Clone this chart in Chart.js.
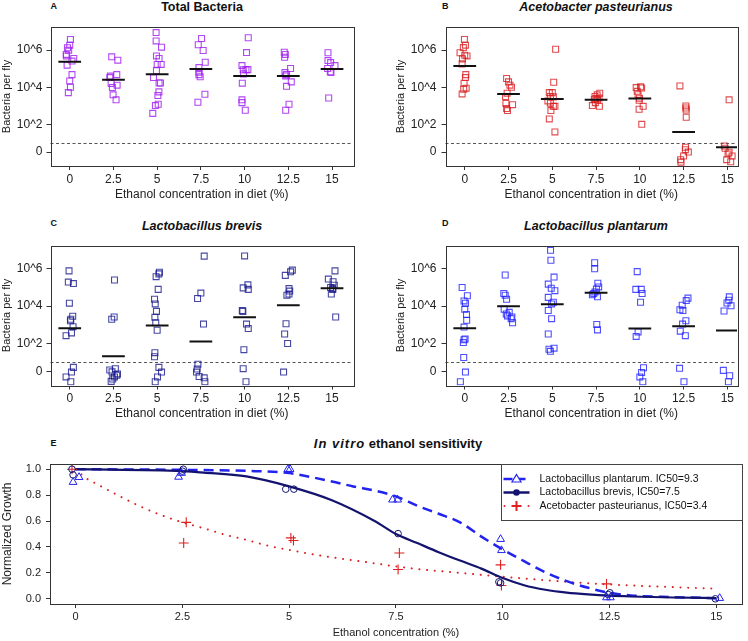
<!DOCTYPE html>
<html>
<head>
<meta charset="utf-8">
<script src="https://cdn.jsdelivr.net/npm/chart.js@4.4.1/dist/chart.umd.min.js"></script>
<style>
body { margin: 0; background: #fff; }
#wrap { position: relative; width: 748px; height: 641px; font-family: "Liberation Sans", Arial, Helvetica, sans-serif; color: #111; }
canvas { position: absolute; }
.ttl { position: absolute; font-weight: bold; font-size: 12.5px; line-height: 12.5px; white-space: nowrap; transform: translateX(-50%); }
.ttl.it { font-style: italic; }
.lt { position: absolute; font-weight: bold; font-size: 9px; line-height: 9px; }
</style>
</head>
<body>
<div id="wrap">
  <div class="lt" style="left:50.5px;top:1.8px">A</div>
  <div class="ttl" style="left:202px;top:0.5px">Total Bacteria</div>
  <div class="lt" style="left:442px;top:1.8px">B</div>
  <div class="ttl it" style="left:596px;top:0.5px">Acetobacter pasteurianus</div>
  <div class="lt" style="left:50.5px;top:219px">C</div>
  <div class="ttl it" style="left:202px;top:219.5px">Lactobacillus brevis</div>
  <div class="lt" style="left:442px;top:219px">D</div>
  <div class="ttl it" style="left:596px;top:219.5px">Lactobacillus plantarum</div>
  <div class="lt" style="left:50.5px;top:438.5px">E</div>
  <div class="ttl" style="left:398px;top:437.2px;font-size:13px;line-height:13px"><i style="letter-spacing:1px">In vitro</i> ethanol sensitivity</div>

  <canvas id="cA" width="374" height="210" style="left:0;top:0"></canvas>
  <canvas id="cB" width="374" height="210" style="left:374px;top:0"></canvas>
  <canvas id="cC" width="374" height="210" style="left:0;top:218px"></canvas>
  <canvas id="cD" width="374" height="210" style="left:374px;top:218px"></canvas>
  <canvas id="cE" width="748" height="211" style="left:0;top:430px"></canvas>
</div>
<script>
// ethanol in the diet (%) and tick labels
const concentrations = [0, 2.5, 5, 7.5, 10, 12.5, 15];
const concLabels = ['0', '2.5', '5', '7.5', '10', '12.5', '15'];

// y axis of panels A-D is log10(bacteria per fly); flies with no bacteria sit at 0.5 ("0")
const yTickValues = [0.5, 2, 4, 6];
const yTickLabels = ['0', '10^2', '10^4', '10^6'];
const detectionLimit = 1;

// [jittered concentration, log10 count], one group per concentration
const totalBacteria = [
  [[0.04,6.58],[0,6.27],[-0.13,6.13],[-0.06,6.0],[-0.2,5.77],[-0.19,5.69],[0.23,5.55],[0.13,5.41],[-0.15,5.19],[0.13,4.68],[0,4.34],[0.04,4.0],[-0.08,3.71]],
  [[2.4,5.64],[2.75,5.46],[2.33,4.6],[2.29,4.52],[2.69,4.68],[2.37,4.2],[2.71,4.11],[2.44,3.98],[2.48,3.59],[2.65,3.32]],
  [[4.94,6.95],[4.94,6.5],[5.25,6.16],[4.96,5.69],[5.11,5.55],[5.23,5.23],[5,5.23],[4.96,4.9],[4.79,4.52],[5.19,4.23],[5.11,4.23],[5.1,3.75],[5.04,3.55],[5.06,3.08],[4.9,3.01],[4.75,2.59]],
  [[7.54,6.63],[7.35,6.29],[7.63,5.98],[7.75,5.35],[7.39,5.06],[7.39,4.81],[7.39,4.68],[7.46,4.56],[7.73,3.62],[7.33,3.19]],
  [[10.21,6.67],[10.11,5.87],[9.85,5.17],[9.92,4.94],[10.08,4.94],[10.19,4.95],[9.94,4.72],[9.87,4.22],[9.85,3.32],[9.85,3.17],[10.04,2.76]],
  [[12.27,5.89],[12.33,5.77],[12.29,5.62],[12.63,5.01],[12.31,4.79],[12.4,4.68],[12.35,4.61],[12.67,4.29],[12.4,4.05],[12.54,3.08],[12.35,2.76]],
  [[14.77,5.86],[14.77,5.44],[14.92,5.33],[15.17,5.17],[14.75,5.01],[14.9,4.83],[14.94,4.79],[14.81,3.42]]
];
const totalBacteriaMeans = [5.37, 4.41, 4.7, 4.99, 4.61, 4.61, 4.99];

const acetobacter = [
  [[-0.02,6.58],[0.04,6.27],[-0.08,6.14],[-0.27,5.86],[0.13,5.69],[0,5.73],[-0.13,5.53],[-0.15,5.26],[0.06,4.68],[0.04,4.52],[-0.04,4.22],[0.08,3.95],[-0.06,3.89],[-0.15,3.64]],
  [[2.39,4.47],[2.5,4.29],[2.58,4.11],[2.67,4.0],[2.42,3.68],[2.33,3.5],[2.35,3.12],[2.73,3.06],[2.39,2.85],[2.44,2.74]],
  [[5.19,6.05],[5.08,4.27],[4.83,3.71],[5,3.71],[4.89,3.5],[5.06,3.48],[4.75,3.26],[4.89,3.14],[5.06,2.97],[5.15,2.97],[4.92,2.74],[4.83,2.29],[5.15,1.59]],
  [[7.71,3.68],[7.56,3.59],[7.44,3.5],[7.67,3.42],[7.5,3.39],[7.4,3.35],[7.58,3.32],[7.46,3.17],[7.29,3.01],[7.69,2.97]],
  [[9.79,3.98],[10.04,4.02],[10.1,3.96],[9.85,3.78],[9.9,3.6],[9.98,3.41],[9.96,3.3],[10.19,2.97],[9.96,2.81],[10.11,2.0]],
  [[12.29,4.07],[12.63,2.99],[12.63,2.88],[12.65,2.77],[12.65,2.38],[12.61,0.76],[12.6,0.63],[12.77,0.5],[12.5,0.29],[12.33,0.09],[12.35,-0.04]],
  [[15.1,3.32],[14.83,0.83],[14.87,0.71],[15.1,0.49],[15.04,0.4],[15.27,0.29],[14.96,0.09],[15.19,-0.02]]
];
const acetobacterMeans = [5.14, 3.64, 3.37, 3.32, 3.39, 1.59, 0.76];

const brevis = [
  [[-0.04,5.89],[-0.08,5.29],[0.21,5.21],[-0.02,4.16],[0.17,3.46],[0.06,3.3],[0.04,3.22],[0.19,2.9],[0.1,2.57],[-0.21,2.42],[0.21,0.72],[0.1,0.47],[-0.21,0.21],[0.06,-0.05]],
  [[2.56,5.4],[2.54,3.42],[2.4,3.3],[2.29,0.58],[2.61,0.65],[2.42,0.48],[2.73,0.37],[2.69,0.3],[2.56,0.21],[2.46,0.1],[2.37,-0.03]],
  [[5.13,5.82],[5.1,5.73],[4.94,5.58],[5.06,4.9],[4.85,4.37],[4.89,4.12],[4.96,3.72],[4.87,3.41],[4.92,3.11],[5,2.71],[4.87,1.51],[4.85,1.29],[5.1,0.72],[5.25,0.47],[5.02,0.21],[4.89,-0.05]],
  [[7.69,6.68],[7.5,4.7],[7.31,4.41],[7.65,3.04],[7.33,0.89],[7.29,0.63],[7.25,0.47],[7.4,0.23],[7.69,0.16],[7.73,-0.05]],
  [[10,6.69],[9.92,4.98],[10.19,5.14],[10.21,4.9],[9.87,3.77],[9.9,3.72],[10.11,3.04],[10.21,2.8],[9.96,1.67],[9.92,0.65],[10.08,-0.05]],
  [[12.73,5.93],[12.63,5.84],[12.33,5.65],[12.54,4.94],[12.58,4.81],[12.42,4.59],[12.54,4.65],[12.37,3.06],[12.29,2.51],[12.46,2.0],[12.23,0.47]],
  [[15.17,5.89],[14.79,5.45],[15.06,5.31],[15.13,5.12],[14.92,5.0],[15.04,4.94],[15.04,4.89],[14.96,4.65],[15.21,3.42]]
];
const brevisMeans = [2.82, 1.32, 2.97, 2.11, 3.41, 4.05, 4.96];

const plantarum = [
  [[-0.15,5.0],[0.15,4.56],[-0.04,4.28],[0.04,4.16],[0,3.83],[0.1,3.55],[0.11,3.24],[-0.04,2.88],[0.02,2.24],[-0.04,2.2],[-0.08,2.05],[-0.06,1.25],[0.04,0.47],[-0.25,-0.05]],
  [[2.31,5.67],[2.23,4.68],[2.31,4.59],[2.39,4.37],[2.25,3.83],[2.54,3.67],[2.37,3.58],[2.44,3.48],[2.69,3.42],[2.65,3.33],[2.73,3.11]],
  [[4.9,6.99],[4.92,6.46],[5.1,5.56],[4.77,5.18],[4.94,4.96],[5.15,4.83],[4.77,4.47],[5.06,4.21],[4.96,4.12],[4.77,3.77],[4.96,3.33],[4.77,2.51],[5.1,1.75],[4.81,1.69],[4.89,1.58]],
  [[7.42,6.33],[7.42,6.0],[7.6,5.23],[7.65,5.03],[7.52,4.92],[7.44,4.76],[7.37,4.68],[7.29,4.61],[7.58,4.5],[7.54,3.02],[7.58,2.73]],
  [[9.85,5.85],[9.77,4.9],[10.08,4.9],[10.13,4.68],[10.04,4.21],[9.9,2.62],[9.79,2.38],[10.21,0.7],[10.1,0.45],[10,0.21],[10.17,-0.05]],
  [[12.75,4.43],[12.65,4.3],[12.42,4.05],[12.29,3.81],[12.46,3.77],[12.63,3.22],[12.44,3.04],[12.31,2.66],[12.6,2.42],[12.27,0.67],[12.52,-0.05]],
  [[15.11,4.5],[15.08,4.32],[14.98,4.17],[15.21,4.02],[14.81,3.74],[14.77,0.56],[15.13,0.27],[15.06,-0.05]]
];
const plantarumMeans = [2.82, 3.99, 4.1, 4.72, 2.8, 2.93, 2.69];

// panel E: in vitro growth, fitted curves
const growthTicks = [0, 0.2, 0.4, 0.6, 0.8, 1.0];
const plantarumFitX = [0, 2.5, 4, 5, 5.5, 6, 6.5, 7, 7.5, 8, 8.5, 9, 9.5, 10, 10.5, 11, 11.5, 12, 12.5, 13, 14, 15];
const plantarumFitY = [1.0, 0.995, 0.987, 0.97, 0.94, 0.905, 0.867, 0.835, 0.79, 0.718, 0.656, 0.59, 0.48, 0.38, 0.29, 0.205, 0.136, 0.085, 0.046, 0.026, 0.013, 0.005];
const brevisFitX = [0, 2.5, 3, 4, 5, 6, 7, 7.5, 8, 8.5, 9, 9.5, 10, 10.5, 11, 11.5, 12, 12.5, 13, 14, 15];
const brevisFitY = [1.0, 0.985, 0.974, 0.944, 0.867, 0.76, 0.6, 0.5, 0.43, 0.36, 0.295, 0.233, 0.16, 0.105, 0.07, 0.048, 0.034, 0.024, 0.018, 0.01, 0.005];
const acetoFitX = [0, 0.25, 0.5, 1, 1.5, 2, 2.5, 3, 3.5, 4, 4.5, 5, 5.5, 6, 6.5, 7, 7.5, 8, 9, 10, 11, 12, 13, 14, 15];
const acetoFitY = [1.0, 0.93, 0.885, 0.797, 0.715, 0.646, 0.59, 0.544, 0.495, 0.454, 0.41, 0.377, 0.346, 0.32, 0.297, 0.274, 0.25, 0.23, 0.2, 0.17, 0.144, 0.12, 0.103, 0.09, 0.079];

// replicate measurements
const plantarumPtsX = [-0.06, 0.08, 2.41, 2.48, 4.97, 5.02, 7.42, 7.54, 9.95, 9.97, 12.43, 12.52, 15.08];
const plantarumPtsY = [0.9, 0.938, 0.94, 0.97, 1.0, 1.0, 0.764, 0.764, 0.46, 0.374, 0.01, 0.01, 0.005];
const brevisPtsX = [-0.085, -0.06, 2.5, 2.52, 4.92, 5.11, 7.55, 9.91, 9.95, 12.47, 12.51, 14.98];
const brevisPtsY = [1.0, 0.956, 0.985, 1.0, 0.846, 0.846, 0.503, 0.131, 0.123, 0.033, 0.046, 0.0];
const acetoPtsX = [-0.085, 2.53, 2.59, 5.04, 5.1, 7.55, 7.58, 9.95, 9.97, 12.43];
const acetoPtsY = [1.0, 0.43, 0.59, 0.47, 0.45, 0.226, 0.354, 0.262, 0.103, 0.115];

const legendLabels = ['Lactobacillus plantarum. IC50=9.3', 'Lactobacillus brevis, IC50=7.5', 'Acetobacter pasteurianus, IC50=3.4'];

Chart.defaults.font.family = '"Liberation Sans", Arial, Helvetica, sans-serif';
Chart.defaults.color = '#222';

const BLUE = '#2323ee', NAVY = '#13136f', RED = '#dd2222';

// box around the plot area + dashed detection limit
const framePlugin = {
  id: 'frame',
  beforeDatasetsDraw(chart, args, opts) {
    if (opts.refLine == null) return;
    const { ctx, chartArea: a } = chart;
    const py = Math.round(chart.scales.y.getPixelForValue(opts.refLine)) + 0.5;
    ctx.save();
    ctx.strokeStyle = '#555';
    ctx.lineWidth = 1;
    ctx.setLineDash([3, 2.5]);
    ctx.beginPath();
    ctx.moveTo(a.left, py);
    ctx.lineTo(a.right, py);
    ctx.stroke();
    ctx.restore();
  },
  afterDraw(chart) {
    const { ctx, chartArea: a } = chart;
    ctx.save();
    ctx.strokeStyle = '#333';
    ctx.lineWidth = 1;
    ctx.strokeRect(Math.round(a.left) + 0.5, Math.round(a.top) + 0.5, Math.round(a.right - a.left), Math.round(a.bottom - a.top));
    ctx.restore();
  }
};

function pairs(xs, ys) {
  return xs.map((x, i) => ({ x: x, y: ys[i] }));
}

function scatterPanel(id, g, groups, means, color, xMax) {
  const pts = groups.flat().map(p => ({ x: p[0], y: p[1] }));
  const segs = [];
  concentrations.forEach((c, i) => {
    segs.push({ x: c - 0.65, y: means[i] }, { x: c + 0.65, y: means[i] }, { x: c, y: null });
  });

  new Chart(document.getElementById(id), {
    type: 'scatter',
    data: {
      datasets: [
        { data: pts, pointStyle: 'rect', pointRadius: 4.2, borderWidth: 1.1, borderColor: color, backgroundColor: 'rgba(0,0,0,0)', order: 1 },
        { data: segs, showLine: true, spanGaps: false, borderColor: '#111', borderWidth: 2, pointRadius: 0, order: 0 }
      ]
    },
    options: {
      responsive: false,
      animation: false,
      devicePixelRatio: 1,
      events: [],
      layout: { padding: { left: 0, top: g.t, right: g.w - g.r, bottom: 0 } },
      plugins: { legend: { display: false }, tooltip: { enabled: false }, frame: { refLine: detectionLimit } },
      scales: {
        x: {
          type: 'linear', min: -1.1, max: xMax,
          afterBuildTicks: s => { s.ticks = concentrations.map(v => ({ value: v })); },
          afterFit: s => { s.height = g.h - g.b; },
          ticks: { autoSkip: false, maxRotation: 0, padding: 2, font: { size: 12 }, callback: v => concLabels[concentrations.indexOf(v)] },
          grid: { drawOnChartArea: false, tickLength: 4, tickColor: '#333' },
          border: { display: false },
          title: { display: true, text: 'Ethanol concentration in diet (%)', font: { size: 12 }, padding: { top: 0, bottom: g.xTitlePad } }
        },
        y: {
          type: 'linear', min: -0.25, max: 7.25,
          afterBuildTicks: s => { s.ticks = yTickValues.map(v => ({ value: v })); },
          afterFit: s => { s.width = g.l; },
          ticks: { padding: g.yTickPad, font: { size: 12 }, callback: v => yTickLabels[yTickValues.indexOf(v)] },
          grid: { drawOnChartArea: false, tickLength: 4, tickColor: '#333' },
          border: { display: false },
          title: { display: true, text: 'Bacteria per fly', font: { size: 11 }, padding: { top: g.yTitlePad, bottom: 0 } }
        }
      }
    },
    plugins: [framePlugin]
  });
}

const leftGeo = { w: 374, h: 210, l: 50.5, r: 353, yTickPad: 4, yTitlePad: 0.4 };
const rightGeo = { w: 374, h: 210, l: 71.5, r: 363, yTickPad: 5, yTitlePad: 20.2 };

scatterPanel('cA', Object.assign({}, leftGeo, { t: 27, b: 166, xTitlePad: 7.8 }), totalBacteria, totalBacteriaMeans, 'rgba(160,32,240,0.82)', 16.2);
scatterPanel('cB', Object.assign({}, rightGeo, { t: 27, b: 166, xTitlePad: 7.8 }), acetobacter, acetobacterMeans, 'rgba(215,25,28,0.78)', 15.55);
scatterPanel('cC', Object.assign({}, leftGeo, { t: 27.5, b: 167.5, xTitlePad: 7.3 }), brevis, brevisMeans, 'rgba(25,25,140,0.8)', 16.2);
scatterPanel('cD', Object.assign({}, rightGeo, { t: 27.5, b: 167.5, xTitlePad: 7.3 }), plantarum, plantarumMeans, 'rgba(30,30,255,0.78)', 15.55);

// legend of panel E, drawn in the top right corner of the plot box
const legendPlugin = {
  id: 'growthLegend',
  afterDraw(chart) {
    const { ctx, chartArea: a } = chart;
    const w = 241, h = 56;
    const x0 = Math.round(a.right - w) + 0.5, y0 = Math.round(a.top) + 0.5;
    ctx.save();
    ctx.fillStyle = '#fff';
    ctx.fillRect(x0, y0, w, h);
    ctx.strokeStyle = '#444';
    ctx.lineWidth = 1;
    ctx.strokeRect(x0, y0, w, h);
    ctx.font = '10.5px "Liberation Sans", Arial, sans-serif';
    ctx.textBaseline = 'middle';
    legendLabels.forEach((txt, i) => {
      const y = y0 + 14.5 + i * 13.5;
      const lx = x0 + 2, rx = x0 + 28, mx = x0 + 15;
      ctx.save();
      if (i === 0) {
        ctx.strokeStyle = BLUE; ctx.lineWidth = 2.5; ctx.setLineDash([9, 4]);
        ctx.beginPath(); ctx.moveTo(lx, y); ctx.lineTo(rx, y); ctx.stroke();
        ctx.setLineDash([]); ctx.lineWidth = 1.2; ctx.fillStyle = '#fff';
        ctx.beginPath(); ctx.moveTo(mx, y - 4.5); ctx.lineTo(mx + 4.5, y + 3); ctx.lineTo(mx - 4.5, y + 3); ctx.closePath();
        ctx.fill(); ctx.stroke();
      } else if (i === 1) {
        ctx.strokeStyle = NAVY; ctx.lineWidth = 2.5;
        ctx.beginPath(); ctx.moveTo(lx, y); ctx.lineTo(rx, y); ctx.stroke();
        ctx.fillStyle = NAVY;
        ctx.beginPath(); ctx.arc(mx, y, 3.3, 0, Math.PI * 2); ctx.fill();
      } else {
        ctx.fillStyle = RED;
        [lx + 1, rx - 1].forEach(dx => { ctx.beginPath(); ctx.arc(dx, y, 1, 0, Math.PI * 2); ctx.fill(); });
        ctx.strokeStyle = RED; ctx.lineWidth = 2;
        ctx.beginPath(); ctx.moveTo(mx - 5, y); ctx.lineTo(mx + 5, y); ctx.moveTo(mx, y - 5); ctx.lineTo(mx, y + 5); ctx.stroke();
      }
      ctx.restore();
      ctx.fillStyle = '#111';
      ctx.fillText(txt, x0 + 38, y);
    });
    ctx.restore();
  }
};

new Chart(document.getElementById('cE'), {
  type: 'scatter',
  data: {
    datasets: [
      { data: pairs(plantarumFitX, plantarumFitY), showLine: true, borderColor: BLUE, borderWidth: 2.5, borderDash: [10, 6], pointRadius: 0, cubicInterpolationMode: 'monotone', order: 3 },
      { data: pairs(brevisFitX, brevisFitY), showLine: true, borderColor: NAVY, borderWidth: 2.2, pointRadius: 0, cubicInterpolationMode: 'monotone', order: 2 },
      { data: pairs(acetoFitX, acetoFitY), showLine: true, borderColor: RED, borderWidth: 2, borderDash: [0.1, 7.6], borderCapStyle: 'round', pointRadius: 0, cubicInterpolationMode: 'monotone', order: 4 },
      { data: pairs(plantarumPtsX, plantarumPtsY), pointStyle: 'triangle', pointRadius: 4.5, borderWidth: 1, borderColor: BLUE, backgroundColor: 'rgba(0,0,0,0)', order: 1 },
      { data: pairs(brevisPtsX, brevisPtsY), pointStyle: 'circle', pointRadius: 3.3, borderWidth: 1, borderColor: NAVY, backgroundColor: 'rgba(0,0,0,0)', order: 1 },
      { data: pairs(acetoPtsX, acetoPtsY), pointStyle: 'cross', pointRadius: 5, borderWidth: 1.1, borderColor: RED, backgroundColor: 'rgba(0,0,0,0)', order: 1 }
    ]
  },
  options: {
    responsive: false,
    animation: false,
    devicePixelRatio: 1,
    events: [],
    layout: { padding: { left: 0, top: 34, right: 2, bottom: 0 } },
    plugins: { legend: { display: false }, tooltip: { enabled: false } },
    scales: {
      x: {
        type: 'linear', min: -0.6, max: 15.6,
        afterBuildTicks: s => { s.ticks = concentrations.map(v => ({ value: v })); },
        afterFit: s => { s.height = 37; },
        ticks: { autoSkip: false, maxRotation: 0, padding: 2.4, font: { size: 11 }, callback: v => concLabels[concentrations.indexOf(v)] },
        grid: { drawOnChartArea: false, tickLength: 4, tickColor: '#333' },
        border: { display: false },
        title: { display: true, text: 'Ethanol concentration (%)', font: { size: 11 }, padding: { top: 0, bottom: 1.1 } }
      },
      y: {
        type: 'linear', min: -0.04, max: 1.04,
        afterBuildTicks: s => { s.ticks = growthTicks.map(v => ({ value: v })); },
        afterFit: s => { s.width = 50; },
        ticks: { padding: 5, font: { size: 11 }, callback: v => v.toFixed(1) },
        grid: { drawOnChartArea: false, tickLength: 4, tickColor: '#333' },
        border: { display: false },
        title: { display: true, text: 'Normalized Growth', font: { size: 12 }, padding: { top: 0, bottom: 0 } }
      }
    }
  },
  plugins: [framePlugin, legendPlugin]
});
</script>
</body>
</html>
